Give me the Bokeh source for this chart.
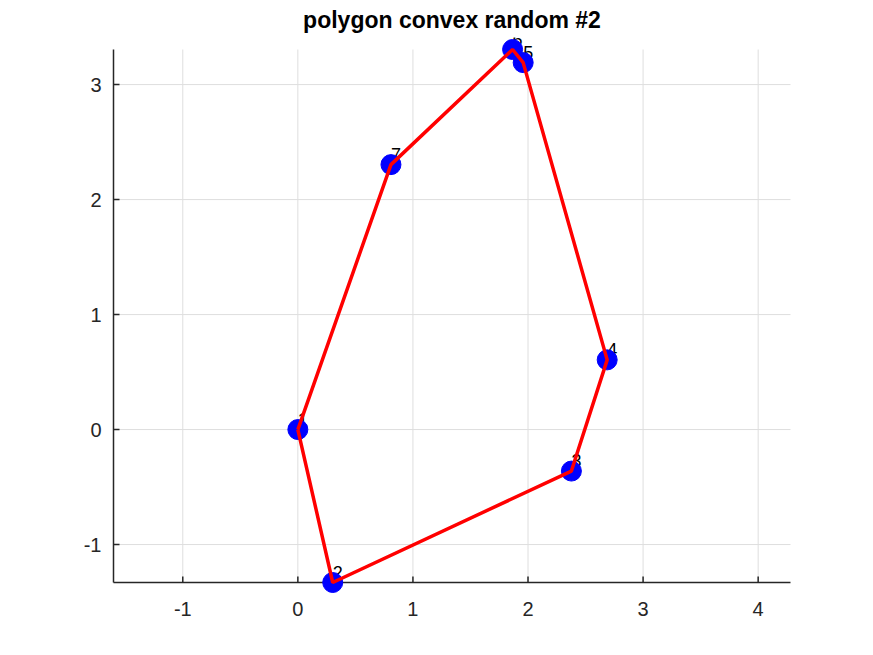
from bokeh.plotting import figure
from bokeh.models import Range1d, FixedTicker, ColumnDataSource
from bokeh.embed import file_html
from bokeh.resources import INLINE
from bokeh.core.properties import value

# vertex data
px = [0.0, 0.303, 2.377, 2.688, 1.958, 1.866, 0.809]
py = [0.0, -1.330, -0.361, 0.606, 3.191, 3.305, 2.304]
labels = ["1", "2", "3", "4", "5", "6", "7"]
xticks = [-1, 0, 1, 2, 3, 4]
yticks = [-1, 0, 1, 2, 3]
xlim = (-1.602, 4.281)
ylim = (-1.330, 3.305)
title = "polygon convex random #2"

# the axes box is 677 x 533 px; the frame is padded so markers are not clipped
PAD = 12
BOX_W, BOX_H = 677, 533
TICK = 6
ux = (xlim[1] - xlim[0]) / BOX_W   # data units per pixel
uy = (ylim[1] - ylim[0]) / BOX_H

W, H = 857, 637
p = figure(width=W, height=H, output_backend="svg", toolbar_location=None,
           x_range=Range1d(xlim[0] - PAD * ux, xlim[1] + PAD * ux),
           y_range=Range1d(ylim[0] - PAD * uy, ylim[1] + PAD * uy),
           min_border_left=113 - PAD, min_border_right=W - 790 - PAD,
           min_border_top=49 - PAD, min_border_bottom=H - 582 - PAD)
p.title.text = title
p.title.align = "center"
p.title.vertical_align = "middle"
p.title.text_font = "Liberation Sans"
p.title.text_font_size = "23px"
p.title.text_font_style = "bold"
p.title.text_color = "#000000"
p.title.standoff = 8
p.outline_line_color = None
p.xgrid.visible = False
p.ygrid.visible = False

nx, ny = len(xticks), len(yticks)
# grid lines limited to the axes box
p.segment(x0=xticks, x1=xticks, y0=[ylim[0]] * nx, y1=[ylim[1]] * nx,
          line_color="#dedede", line_width=1)
p.segment(x0=[xlim[0]] * ny, x1=[xlim[1]] * ny, y0=yticks, y1=yticks,
          line_color="#dedede", line_width=1)
# axis lines and inward ticks (under the markers)
p.segment(x0=[xlim[0], xlim[0]], x1=[xlim[1], xlim[0]], y0=[ylim[0], ylim[0]],
          y1=[ylim[0], ylim[1]], line_color="#262626", line_width=1.5)
p.segment(x0=xticks, x1=xticks, y0=[ylim[0]] * nx, y1=[ylim[0] + TICK * uy] * nx,
          line_color="#262626", line_width=1.5)
p.segment(x0=[xlim[0]] * ny, x1=[xlim[0] + TICK * ux] * ny, y0=yticks, y1=yticks,
          line_color="#262626", line_width=1.5)

for ax in (p.xaxis[0], p.yaxis[0]):
    ax.axis_line_color = None
    ax.major_tick_line_color = None
    ax.minor_tick_line_color = None
    ax.major_tick_in = 0
    ax.major_tick_out = 0
    ax.major_label_text_font = "Liberation Sans"
    ax.major_label_text_font_size = "20px"
    ax.major_label_text_color = "#262626"
p.xaxis[0].ticker = FixedTicker(ticks=xticks)
p.yaxis[0].ticker = FixedTicker(ticks=yticks)
p.xaxis[0].major_label_overrides = {t: str(t) for t in xticks}
p.yaxis[0].major_label_overrides = {t: str(t) for t in yticks}
p.xaxis[0].major_label_standoff = 19 - PAD
p.yaxis[0].major_label_standoff = 0

src = ColumnDataSource(dict(x=px, y=py, t=labels))
p.text(x="x", y="y", text="t", source=src, text_font=value("Liberation Sans"),
       text_font_size="18px", text_color="#000000", text_align="left",
       text_baseline="bottom", y_offset=-4)
p.scatter(x="x", y="y", source=src, size=20, color="#0000ff", line_color="#0000ff")
p.line(x=px + [px[0]], y=py + [py[0]], line_color="#ff0000", line_width=3.5)

open("out.html", "w").write(file_html(p, INLINE))
